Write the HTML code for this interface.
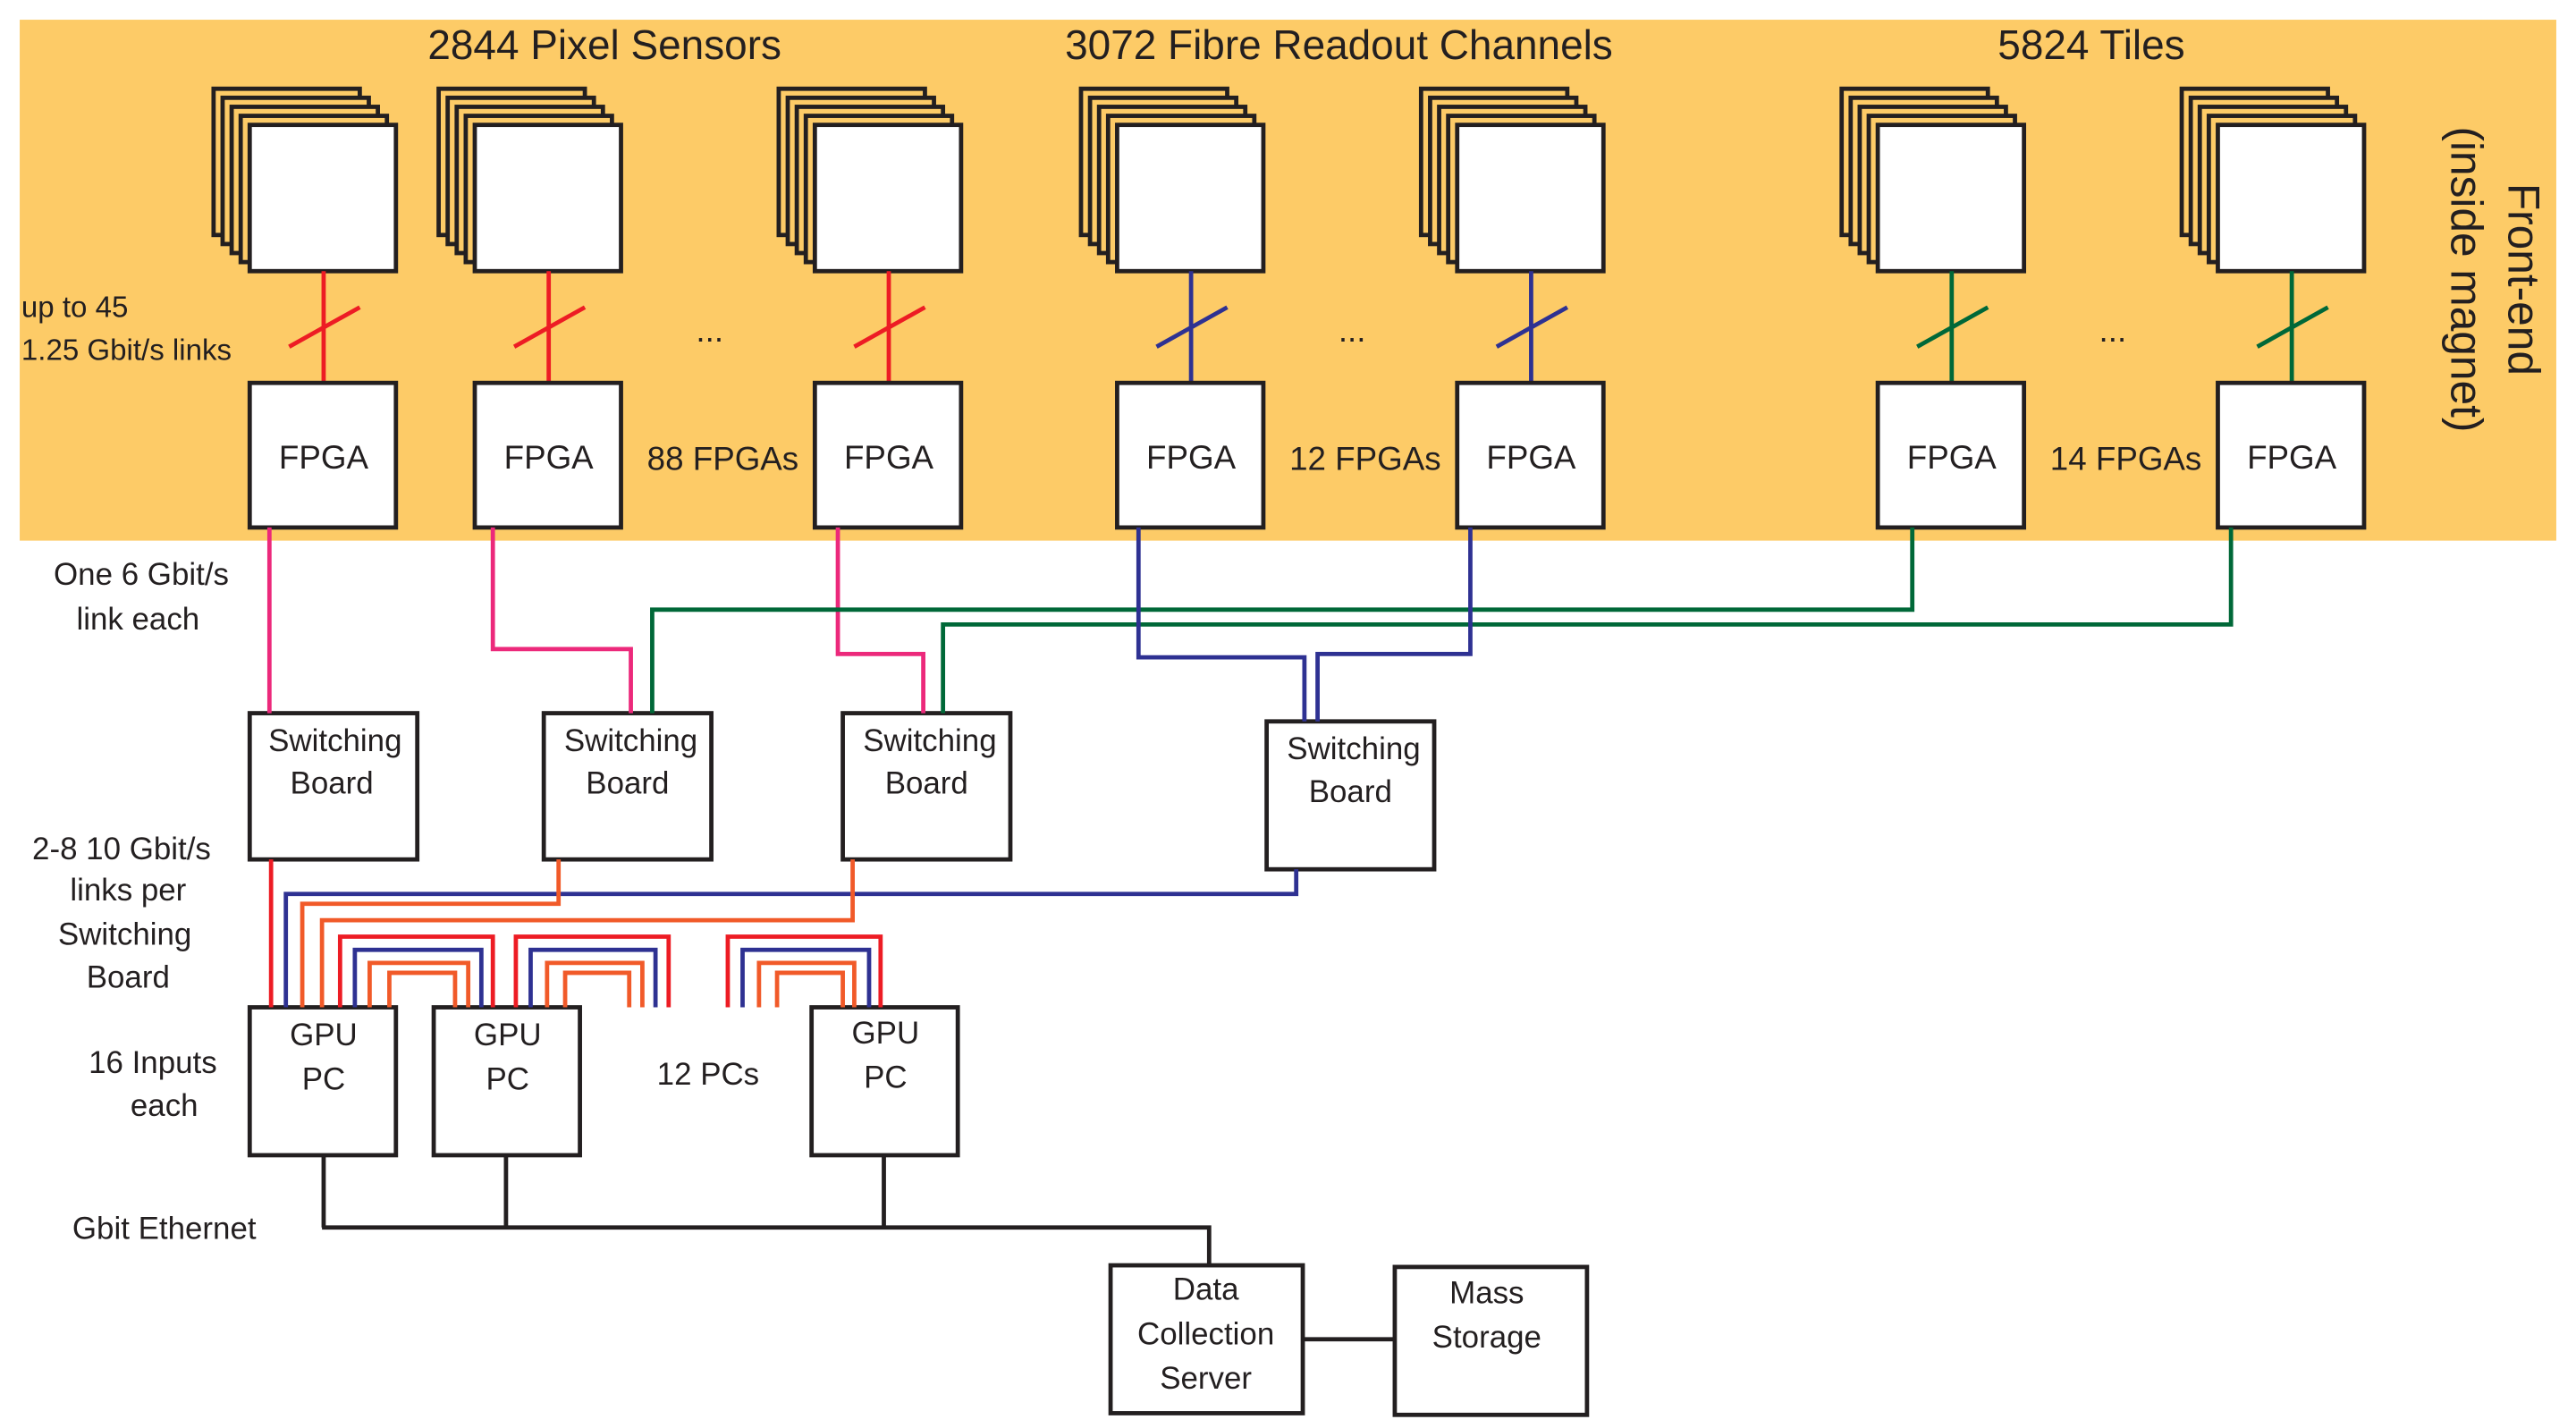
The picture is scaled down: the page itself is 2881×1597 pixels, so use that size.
<!DOCTYPE html>
<html><head><meta charset="utf-8"><style>
html,body{margin:0;padding:0;background:#fff;width:2881px;height:1597px;overflow:hidden}
svg{display:block}
text{font-family:"Liberation Sans",sans-serif;fill:#231f20}
</style></head><body>
<svg width="2881" height="1597" viewBox="0 0 1568 869" preserveAspectRatio="none" xmlns="http://www.w3.org/2000/svg">
<rect x="12" y="12" width="1544" height="317" fill="#fdcb67"/>
<g font-size="25" text-anchor="middle">
<text x="368" y="36">2844 Pixel Sensors</text>
<text x="815" y="36">3072 Fibre Readout Channels</text>
<text x="1273" y="36">5824 Tiles</text>
</g>
<g stroke="#231f20" stroke-width="2.6">
<g id="s1">
<rect x="130" y="54" width="89" height="89" fill="#fdcb67"/>
<rect x="135.5" y="59.5" width="89" height="89" fill="#fdcb67"/>
<rect x="141" y="65" width="89" height="89" fill="#fdcb67"/>
<rect x="146.5" y="70.5" width="89" height="89" fill="#fdcb67"/>
<rect x="152" y="76" width="89" height="89" fill="#fff"/>
</g>
<use href="#s1" x="137"/><use href="#s1" x="344"/><use href="#s1" x="528"/><use href="#s1" x="735"/><use href="#s1" x="991"/><use href="#s1" x="1198"/>
</g>
<g stroke-width="2.6" fill="none">
<g stroke="#ed1c24">
<path d="M197 165V233M176 211L219 187"/><path d="M334 165V233M313 211L356 187"/><path d="M541 165V233M520 211L563 187"/>
</g>
<g stroke="#2e3192">
<path d="M725 165V233M704 211L747 187"/><path d="M932 165V233M911 211L954 187"/>
</g>
<g stroke="#006838">
<path d="M1188 165V233M1167 211L1210 187"/><path d="M1395 165V233M1374 211L1417 187"/>
</g>
</g>
<g stroke="#231f20" stroke-width="2.6" fill="#fff">
<rect x="152" y="233" width="89" height="88"/><rect x="289" y="233" width="89" height="88"/><rect x="496" y="233" width="89" height="88"/>
<rect x="680" y="233" width="89" height="88"/><rect x="887" y="233" width="89" height="88"/><rect x="1143" y="233" width="89" height="88"/><rect x="1350" y="233" width="89" height="88"/>
<rect x="152" y="434" width="102" height="89"/><rect x="331" y="434" width="102" height="89"/><rect x="513" y="434" width="102" height="89"/><rect x="771" y="439" width="102" height="90"/>
<rect x="152" y="613" width="89" height="90"/><rect x="264" y="613" width="89" height="90"/><rect x="494" y="613" width="89" height="90"/>
<rect x="676" y="770" width="117" height="90"/><rect x="849" y="771" width="117" height="90"/>
</g>
<g font-size="20" text-anchor="middle">
<text x="197" y="285">FPGA</text><text x="334" y="285">FPGA</text><text x="541" y="285">FPGA</text><text x="725" y="285">FPGA</text><text x="932" y="285">FPGA</text><text x="1188" y="285">FPGA</text><text x="1395" y="285">FPGA</text>
<text x="440" y="286">88 FPGAs</text><text x="831" y="286">12 FPGAs</text><text x="1294" y="286">14 FPGAs</text>
<text x="432" y="208">...</text><text x="823" y="208">...</text><text x="1286" y="208">...</text>
<g font-size="19">
<text x="204" y="457">Switching</text><text x="202" y="483">Board</text>
<text x="384" y="457">Switching</text><text x="382" y="483">Board</text>
<text x="566" y="457">Switching</text><text x="564" y="483">Board</text>
<text x="824" y="462">Switching</text><text x="822" y="488">Board</text>
<text x="197" y="636">GPU</text><text x="197" y="663">PC</text>
<text x="309" y="636">GPU</text><text x="309" y="663">PC</text>
<text x="539" y="635">GPU</text><text x="539" y="662">PC</text>
<text x="431" y="660">12 PCs</text>
<text x="734" y="791">Data</text><text x="734" y="818">Collection</text><text x="734" y="845">Server</text>
<text x="905" y="793">Mass</text><text x="905" y="820">Storage</text>
<text x="86" y="356">One 6 Gbit/s</text><text x="84" y="383">link each</text>
<text x="74" y="523">2-8 10 Gbit/s</text><text x="78" y="548">links per</text><text x="76" y="575">Switching</text><text x="78" y="601">Board</text>
<text x="93" y="653">16 Inputs</text><text x="100" y="679">each</text>
<text x="100" y="754">Gbit Ethernet</text>
</g>
<g font-size="18" text-anchor="start">
<text x="13" y="193">up to 45</text><text x="13" y="219">1.25 Gbit/s links</text>
</g>
<g font-size="27">
<text transform="translate(1527,170) rotate(90)" text-anchor="middle">Front-end</text>
<text transform="translate(1492,170) rotate(90)" text-anchor="middle">(inside magnet)</text>
</g>
</g>
<g fill="none" stroke-width="2.6">
<g stroke="#ec297b">
<path d="M164 321V434"/><path d="M300 321V395H384V434"/><path d="M510 321V398H562V434"/>
</g>
<g stroke="#006838">
<path d="M1164 321V371H397V434"/><path d="M1358 321V380H574V434"/>
</g>
<g stroke="#2e3192">
<path d="M693 321V400H794V439"/><path d="M895 321V398H802V439"/>
<path d="M789 529V544H174V613"/>
<path d="M216 613V578H293V613"/><path d="M323 613V578H399V613"/><path d="M452 613V578H529V613"/>
</g>
<g stroke="#ed1c24">
<path d="M165 523V613"/>
<path d="M207 613V570H300V613"/><path d="M314 613V570H407V613"/><path d="M443 613V570H536V613"/>
</g>
<g stroke="#f15a29">
<path d="M340 523V550H184V613"/><path d="M519 523V560H196V613"/>
<path d="M225 613V586H285V613"/><path d="M237 613V592H277V613"/>
<path d="M333 613V586H391V613"/><path d="M344 613V592H383V613"/>
<path d="M462 613V586H520V613"/><path d="M473 613V592H513V613"/>
</g>
<g stroke="#231f20">
<path d="M197 703V747M308 703V747M538 703V747M196 747H736V770M793 815H849"/>
</g>
</g>
</svg>
</body></html>
